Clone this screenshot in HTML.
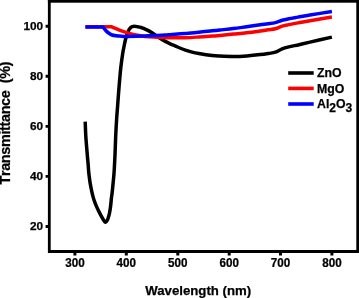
<!DOCTYPE html>
<html><head><meta charset="utf-8"><title>Transmittance</title>
<style>
html,body{margin:0;padding:0;background:#fff;}
body{width:359px;height:298px;overflow:hidden;}
svg{display:block;}
text{font-family:"Liberation Sans", Arial, Helvetica, sans-serif;font-weight:bold;fill:#000;stroke:#000;stroke-width:0.25px;}
</style></head><body>
<svg width="359" height="298" viewBox="0 0 359 298">
<rect width="359" height="298" fill="#fff"/>
<g fill="none" stroke-width="3.5" stroke-linejoin="round" stroke-linecap="butt">
<path d="M85.20,121.60 C85.30,124.02 85.45,130.53 85.80,136.10 C86.15,141.67 86.90,150.18 87.30,155.00 C87.70,159.82 87.97,162.17 88.20,165.00 C88.43,167.83 88.52,170.00 88.70,172.00 C88.88,174.00 89.08,175.32 89.30,177.00 C89.52,178.68 89.73,180.42 90.00,182.10 C90.27,183.78 90.58,185.43 90.90,187.10 C91.22,188.77 91.53,190.43 91.90,192.10 C92.28,193.77 92.68,195.43 93.15,197.10 C93.62,198.77 94.14,200.43 94.75,202.10 C95.36,203.77 96.06,205.43 96.80,207.10 C97.54,208.77 98.36,210.43 99.20,212.10 C100.04,213.77 101.12,215.77 101.85,217.10 C102.58,218.43 103.07,219.27 103.60,220.10 C104.12,220.93 104.58,221.82 105.00,222.10 C105.42,222.38 105.77,222.05 106.10,221.80 C106.43,221.55 106.70,221.10 107.00,220.60 C107.30,220.10 107.63,219.48 107.90,218.80 C108.17,218.12 108.33,217.45 108.60,216.50 C108.87,215.55 109.21,214.50 109.50,213.10 C109.79,211.70 110.11,209.78 110.35,208.10 C110.59,206.42 110.78,204.68 110.95,203.00 C111.12,201.32 111.19,199.82 111.40,198.00 C111.61,196.18 111.90,194.75 112.20,192.10 C112.50,189.45 112.88,185.45 113.20,182.10 C113.52,178.75 113.80,176.52 114.10,172.00 C114.40,167.48 114.73,160.98 115.00,155.00 C115.27,149.02 115.42,142.27 115.70,136.10 C115.98,129.93 116.37,123.22 116.70,118.00 C117.03,112.78 117.37,109.23 117.70,104.80 C118.03,100.37 118.35,95.87 118.70,91.40 C119.05,86.93 119.43,82.10 119.80,78.00 C120.17,73.90 120.42,70.90 120.90,66.80 C121.38,62.70 122.17,56.87 122.70,53.40 C123.23,49.93 123.65,48.23 124.10,46.00 C124.55,43.77 124.95,41.83 125.40,40.00 C125.85,38.17 126.33,36.42 126.80,35.00 C127.27,33.58 127.78,32.47 128.20,31.50 C128.62,30.53 128.90,29.85 129.30,29.20 C129.70,28.55 130.10,28.03 130.60,27.60 C131.10,27.17 131.70,26.82 132.30,26.60 C132.90,26.38 133.42,26.30 134.20,26.30 C134.98,26.30 135.85,26.40 137.00,26.60 C138.15,26.80 139.57,27.00 141.10,27.50 C142.63,28.00 144.38,28.72 146.20,29.60 C148.02,30.48 149.38,31.13 152.00,32.80 C154.62,34.47 158.85,37.77 161.90,39.60 C164.95,41.43 168.12,42.77 170.30,43.80 C172.48,44.83 173.60,45.18 175.00,45.80 C176.40,46.42 176.97,46.78 178.70,47.50 C180.43,48.22 183.17,49.33 185.40,50.10 C187.63,50.87 189.87,51.53 192.10,52.10 C194.33,52.67 195.45,52.93 198.80,53.50 C202.15,54.07 208.67,55.07 212.20,55.50 C215.73,55.93 216.47,55.93 220.00,56.10 C223.53,56.27 228.93,56.53 233.40,56.50 C237.87,56.47 242.33,56.22 246.80,55.90 C251.27,55.58 256.55,55.02 260.20,54.60 C263.85,54.18 266.17,53.80 268.70,53.40 C271.23,53.00 273.17,52.95 275.40,52.20 C277.63,51.45 279.87,49.78 282.10,48.90 C284.33,48.02 285.98,47.60 288.80,46.90 C291.62,46.20 295.47,45.49 299.00,44.70 C302.53,43.91 304.52,43.42 310.00,42.15 C315.48,40.88 328.25,37.94 331.90,37.10" stroke="#000"/>
<path d="M85.40,26.65 L111.10,26.65 C112.60,27.27 116.92,29.24 120.10,30.40 C123.28,31.56 127.55,32.83 130.20,33.60 C132.85,34.37 133.53,34.53 136.00,35.00 C138.47,35.47 142.08,36.05 145.00,36.40 C147.92,36.75 150.17,36.90 153.50,37.10 C156.83,37.30 161.92,37.48 165.00,37.60 C168.08,37.72 168.60,37.78 172.00,37.80 C175.40,37.82 180.93,37.83 185.40,37.70 C189.87,37.57 194.33,37.27 198.80,37.00 C203.27,36.73 208.67,36.37 212.20,36.10 C215.73,35.83 216.47,35.73 220.00,35.40 C223.53,35.07 228.93,34.53 233.40,34.10 C237.87,33.67 242.33,33.32 246.80,32.80 C251.27,32.28 256.67,31.50 260.20,31.00 C263.73,30.50 265.47,30.18 268.00,29.80 C270.53,29.42 273.05,29.32 275.40,28.70 C277.75,28.08 279.87,26.78 282.10,26.10 C284.33,25.42 286.15,25.14 288.80,24.60 C291.45,24.06 294.47,23.50 298.00,22.85 C301.53,22.20 304.35,21.68 310.00,20.70 C315.65,19.72 328.25,17.62 331.90,17.00" stroke="#ff0000"/>
<path d="M85.40,26.95 L103.00,26.95 C103.50,27.59 105.00,29.74 106.00,30.80 C107.00,31.86 107.98,32.60 109.00,33.30 C110.02,34.00 110.92,34.58 112.10,35.00 C113.28,35.42 114.77,35.62 116.10,35.80 C117.43,35.98 118.42,35.99 120.10,36.10 C121.78,36.21 123.55,36.42 126.20,36.45 C128.85,36.48 132.87,36.38 136.00,36.30 C139.13,36.22 142.08,36.12 145.00,36.00 C147.92,35.88 150.17,35.77 153.50,35.60 C156.83,35.43 161.92,35.20 165.00,35.00 C168.08,34.80 168.60,34.67 172.00,34.40 C175.40,34.13 180.93,33.75 185.40,33.40 C189.87,33.05 194.33,32.73 198.80,32.30 C203.27,31.87 208.67,31.18 212.20,30.80 C215.73,30.42 216.47,30.37 220.00,30.00 C223.53,29.63 228.93,29.15 233.40,28.60 C237.87,28.05 242.33,27.33 246.80,26.70 C251.27,26.07 256.67,25.28 260.20,24.80 C263.73,24.32 265.47,24.17 268.00,23.80 C270.53,23.43 273.05,23.18 275.40,22.60 C277.75,22.02 279.87,20.93 282.10,20.30 C284.33,19.67 286.15,19.33 288.80,18.80 C291.45,18.27 294.47,17.78 298.00,17.15 C301.53,16.52 304.35,15.94 310.00,15.00 C315.65,14.06 328.25,12.08 331.90,11.50" stroke="#0000ff"/>
</g>
<!-- axes frame -->
<g fill="#000">
<rect x="47.9" y="0" width="2.8" height="253"/>
<rect x="356.3" y="0" width="2.7" height="253"/>
<rect x="47.9" y="0" width="311.1" height="2.7"/>
<rect x="48.3" y="250" width="310.7" height="3"/>
</g>
<g stroke="#000" stroke-width="2.9">
<path d="M45.6,26.2H48.5 M45.6,76.3H48.5 M45.6,126.4H48.5 M45.6,176.4H48.5 M45.6,226.5H48.5"/>
</g>
<g stroke="#000" stroke-width="3">
<path d="M74.9,252V255.5 M126.3,252V255.5 M177.8,252V255.5 M229.2,252V255.5 M280.5,252V255.5 M331.9,252V255.5"/>
</g>
<g font-size="11.8" text-anchor="end">
<text x="43.1" y="30.4">100</text>
<text x="43.1" y="80.3">80</text>
<text x="43.1" y="130.3">60</text>
<text x="43.1" y="180.1">40</text>
<text x="43.1" y="230">20</text>
</g>
<g font-size="12.4" text-anchor="middle">
<text transform="translate(74.9,267.2) scale(.94,1)">300</text>
<text transform="translate(126.3,267.2) scale(.94,1)">400</text>
<text transform="translate(177.8,267.2) scale(.94,1)">500</text>
<text transform="translate(229.2,267.2) scale(.94,1)">600</text>
<text transform="translate(280.5,267.2) scale(.94,1)">700</text>
<text transform="translate(331.9,267.2) scale(.94,1)">800</text>
</g>
<text x="198.2" y="294.7" font-size="13.2" text-anchor="middle">Wavelength (nm)</text>
<text transform="translate(10,184.5) rotate(-90)" font-size="14.4" letter-spacing="-0.34" style="font-kerning:none;white-space:pre" text-anchor="start" xml:space="preserve">Transmittance  (%)</text>
<g stroke-width="3.6" fill="none">
<path d="M288.2,73H313.7" stroke="#000"/>
<path d="M288.2,88.4H313.7" stroke="#ff0000"/>
<path d="M288.2,104H313.7" stroke="#0000ff"/>
</g>
<g font-size="12.3">
<text x="317" y="77.2">ZnO</text>
<text x="317" y="92.6">MgO</text>
<text x="317" y="107.7">Al<tspan dy="4.7" font-size="12">2</tspan><tspan dy="-4.7">O</tspan><tspan dy="4.7" font-size="12">3</tspan></text>
</g>
</svg>
</body></html>
